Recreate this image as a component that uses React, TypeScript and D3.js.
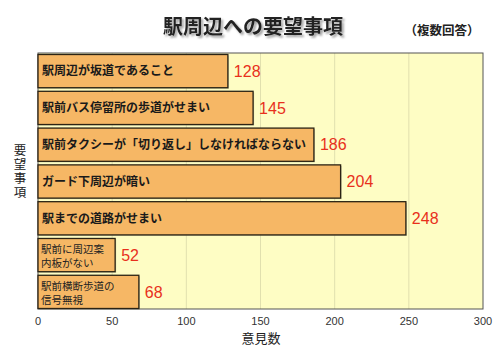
import React from "react";
import * as d3 from "d3";

const categories = [
  "駅周辺が坂道であること",
  "駅前バス停留所の歩道がせまい",
  "駅前タクシーが「切り返し」しなければならない",
  "ガード下周辺が暗い",
  "駅までの道路がせまい",
  "駅前に周辺案\n内板がない",
  "駅前横断歩道の\n信号無視",
];
const counts = [128, 145, 186, 204, 248, 52, 68];
const xTicks = [0, 50, 100, 150, 200, 250, 300];
const yTitle = "要望事項";

const W = 500;
const H = 354;
const left = 38;
const right = 483;
const top = 53;
const bottom = 309;
const font = "'Noto Sans CJK JP', 'Noto Sans', sans-serif";
const numFont = "'Liberation Sans', Arial, sans-serif";

const App = () => {
  const x = d3.scaleLinear().domain([0, 300]).range([left, right]);
  const y = d3
    .scaleBand()
    .domain(categories)
    .range([54.5, 308.5])
    .paddingInner(0.097)
    .paddingOuter(0);

  return (
    <svg
      width={W}
      height={H}
      style={{ position: "absolute", left: 0, top: 0, background: "#fff" }}
      fontFamily={font}
    >
      <defs>
        <filter id="shadow" x="-10%" y="-30%" width="120%" height="160%">
          <feDropShadow dx={2} dy={2} stdDeviation={0.8} floodColor="#888" floodOpacity={0.8} />
        </filter>
      </defs>

      {/* title */}
      <text
        x={253}
        y={34}
        textAnchor="middle"
        fontSize={20}
        fontWeight="bold"
        fill="#222"
        filter="url(#shadow)"
      >
        駅周辺への要望事項
      </text>
      <text x={442} y={35} textAnchor="middle" fontSize={12.5} fontWeight="bold" fill="#222">
        （複数回答）
      </text>

      {/* plot background */}
      <rect x={left} y={top} width={right - left} height={bottom - top} fill="#fefdc4" />
      {xTicks.slice(1, -1).map((t) => (
        <line key={t} x1={x(t)} x2={x(t)} y1={top} y2={bottom} stroke="#d9d8a8" strokeWidth={0.8} />
      ))}
      <rect x={left} y={top} width={right - left} height={bottom - top} fill="none" stroke="#555" strokeWidth={1} />

      {/* bars */}
      {categories.map((c, i) => {
        const y0 = y(c)!;
        const bw = y.bandwidth();
        const lines = c.split("\n");
        const two = lines.length > 1;
        return (
          <g key={c}>
            <rect
              x={left + 1}
              y={y0 + 1}
              width={x(counts[i]) - left}
              height={bw}
              fill="#8a8a70"
              opacity={0.5}
            />
            <rect
              x={left}
              y={y0}
              width={x(counts[i]) - left}
              height={bw}
              fill="#f6b765"
              stroke="#2b2314"
              strokeWidth={1.3}
            />
            {two ? (
              lines.map((l, k) => (
                <text key={k} x={left + 3} y={y0 + 14.5 + k * 14} fontSize={10.5} fill="#222">
                  {l}
                </text>
              ))
            ) : (
              <text
                x={left + 4}
                y={y0 + bw / 2}
                dy="0.36em"
                fontSize={12}
                fontWeight="bold"
                fill="#1a1a1a"
              >
                {c}
              </text>
            )}
            <text
              x={x(counts[i]) + 6}
              y={y0 + bw / 2}
              dy="0.36em"
              fontSize={16}
              fontFamily={numFont}
              fill="#e8301c"
            >
              {counts[i]}
            </text>
          </g>
        );
      })}

      {/* x axis ticks */}
      {xTicks.map((t) => (
        <text key={t} x={x(t)} y={325} textAnchor="middle" fontSize={11} fontFamily={numFont} fill="#333">
          {t}
        </text>
      ))}
      <text x={261} y={343} textAnchor="middle" fontSize={13} fill="#222">
        意見数
      </text>

      {/* y axis title, written vertically */}
      <text
        x={20}
        y={144}
        fontSize={12.5}
        fill="#222"
        style={{ writingMode: "vertical-rl", letterSpacing: "1.5px" }}
      >
        {yTitle}
      </text>
    </svg>
  );
};

export default App;
